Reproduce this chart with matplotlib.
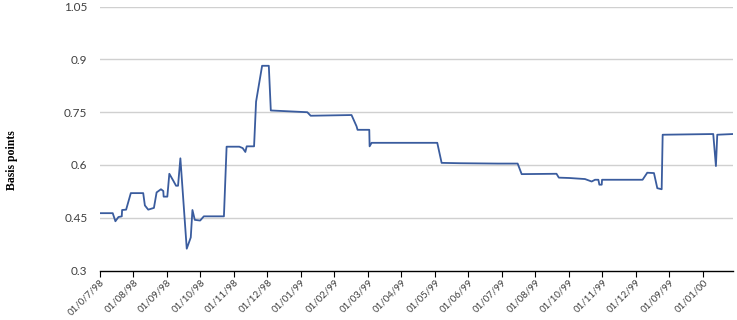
import matplotlib
matplotlib.use("Agg")
import matplotlib.pyplot as plt

# months after 01/07/98 and basis point values
months = [0.00, 0.38, 0.46, 0.55, 0.65, 0.66, 0.78, 0.92, 1.29, 1.34, 1.44, 1.61,
          1.69, 1.82, 1.89, 1.90, 2.01, 2.07, 2.19, 2.27, 2.33, 2.40, 2.59, 2.71,
          2.76, 2.83, 2.99, 3.10, 3.70, 3.78, 4.16, 4.26, 4.34, 4.38, 4.60, 4.66,
          4.84, 5.04, 5.10, 6.19, 6.29, 7.51, 7.66, 7.69, 8.04, 8.05, 8.11, 10.07,
          10.20, 10.75, 11.87, 12.47, 12.59, 13.63, 13.70, 14.01, 14.48, 14.68,
          14.78, 14.88, 14.91, 14.98, 14.99, 16.20, 16.34, 16.54, 16.64, 16.77,
          16.80, 18.31, 18.39, 18.43, 18.90]
values = [0.463, 0.463, 0.440, 0.452, 0.454, 0.472, 0.473, 0.520, 0.520, 0.485,
          0.473, 0.478, 0.522, 0.531, 0.526, 0.510, 0.510, 0.575, 0.555, 0.541,
          0.541, 0.619, 0.362, 0.394, 0.472, 0.444, 0.442, 0.454, 0.454, 0.652,
          0.652, 0.648, 0.637, 0.653, 0.653, 0.780, 0.882, 0.882, 0.755, 0.750,
          0.740, 0.742, 0.710, 0.700, 0.700, 0.653, 0.663, 0.663, 0.606, 0.605,
          0.604, 0.604, 0.574, 0.575, 0.564, 0.563, 0.560, 0.553, 0.558, 0.558,
          0.544, 0.544, 0.558, 0.558, 0.578, 0.577, 0.534, 0.531, 0.686, 0.688,
          0.597, 0.686, 0.688]

tick_labels = ["01/0/7/98", "01/08/98", "01/09/98", "01/10/98", "01/11/98",
               "01/12/98", "01/01/99", "01/02/99", "01/03/99", "01/04/99",
               "01/05/99", "01/06/99", "01/07/99", "01/08/99", "01/10/99",
               "01/11/99", "01/12/99", "01/09/99", "01/01/00"]
yticks = [0.3, 0.45, 0.6, 0.75, 0.9, 1.05]

fig = plt.figure(figsize=(7.37, 3.2), dpi=100)
ax = fig.add_axes([100 / 737, 1 - 270.5 / 320, 633 / 737, (270.5 - 6.7) / 320])

for y in yticks[1:]:
    ax.axhline(y, color="#d0d0d0", lw=1.0, zorder=0)

ax.plot(months, values, color="#3a5c9e", lw=1.3, zorder=2)

ax.set_xlim(0, 18.9)
ax.set_ylim(0.3, 1.05)
ax.set_yticks(yticks)
ax.set_yticklabels(["0.3", "0.45", "0.6", "0.75", "0.9", "1.05"],
                   family="Lato", fontsize=8.5, color="#404040")
ax.set_xticks(range(len(tick_labels)))
ax.set_xticklabels(tick_labels, rotation=45, ha="right", rotation_mode="anchor",
                   family="Lato", fontsize=7, color="#404040")

for s in ["top", "right", "left"]:
    ax.spines[s].set_visible(False)
ax.spines["bottom"].set_color("black")
ax.spines["bottom"].set_linewidth(1.0)
ax.tick_params(axis="y", length=0, pad=9)
ax.tick_params(axis="x", length=4, direction="out", color="black", pad=1)

fig.text(12 / 737, 0.5, "Basis points", rotation=90, va="center", ha="center",
         family="Liberation Serif", fontweight="bold", fontsize=8.5)

fig.savefig("out.png", dpi=100)
